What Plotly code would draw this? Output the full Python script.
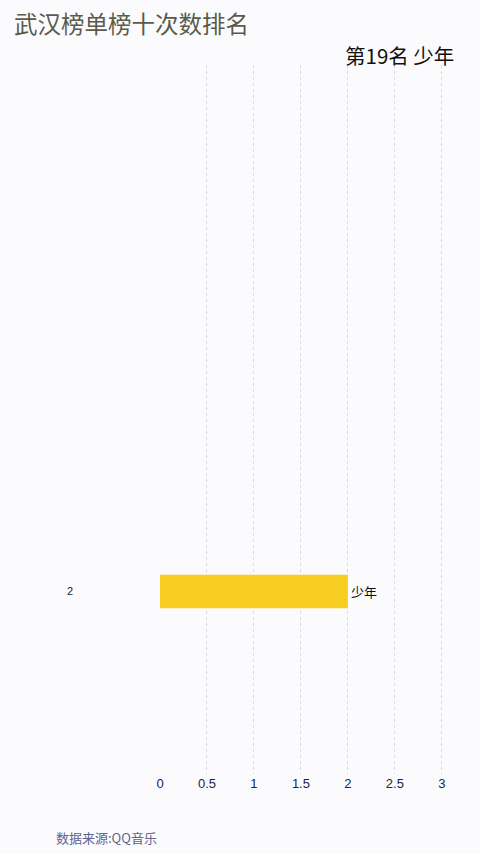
import plotly.graph_objects as go

# data
songs = ["少年"]
counts = [2]
ranks = [8]
title_text = "武汉榜单榜十次数排名"
current_label = "第19名 少年"
source_text = "数据来源:QQ音乐"
x_ticks = [0, 0.5, 1, 1.5, 2, 2.5, 3]

BG = "#fbfbfd"
BAR = "#f7cd22"

W, H = 480, 854
L, R, T, B = 160, 10, 65, 80
PW, PH = W - L - R, H - T - B


def px(x):
    return (x - L) / PW


def py(y):
    return 1 - (y - T) / PH


fig = go.Figure()
fig.add_trace(go.Bar(
    x=counts, y=ranks, orientation="h",
    marker=dict(color=BAR, line=dict(width=0)),
    width=0.48,
    text=songs, textposition="outside",
    textfont=dict(family="Noto Sans CJK SC", size=13, color="#111111"),
    cliponaxis=False,
    hoverinfo="skip",
))

anns = []
for c, r in zip(counts, ranks):
    anns.append(dict(
        x=px(65), xref="paper", y=r, yref="y",
        text=str(c), showarrow=False,
        font=dict(family="Liberation Sans", size=11, color="#222233"),
    ))
anns.append(dict(
    text=current_label, xref="paper", yref="paper",
    x=px(456), xanchor="right", y=py(55), yanchor="middle",
    showarrow=False, font=dict(family="Noto Sans CJK SC", size=20.5, color="#111111")))
anns.append(dict(
    text=source_text, xref="paper", yref="paper",
    x=px(54), xanchor="left", y=py(837), yanchor="middle",
    showarrow=False, font=dict(family="Noto Sans CJK SC", size=13, color="#62628e")))

fig.update_layout(
    width=W, height=H,
    paper_bgcolor=BG, plot_bgcolor=BG,
    margin=dict(l=L, r=R, t=T, b=B),
    showlegend=False,
    title=dict(text=title_text, x=14 / W, xanchor="left", y=1 - 25 / H, yanchor="middle",
               font=dict(family="Noto Sans CJK SC", size=23.5, color="#5b5b4c")),
    xaxis=dict(range=[0, 3.3], tickvals=x_ticks, ticktext=[str(t) for t in x_ticks],
               showgrid=True, gridcolor="#d6d6f2", griddash="dot", gridwidth=1,
               zeroline=False, showline=False, ticks="",
               tickfont=dict(family="Liberation Sans", size=13, color="#22224e")),
    yaxis=dict(range=[10.6, 0.5], showticklabels=False, showgrid=False,
               zeroline=False, showline=False, ticks=""),
    annotations=anns,
)

fig.write_html("out.html", config={"displayModeBar": False},
               post_script="document.body.style.margin='0';")
